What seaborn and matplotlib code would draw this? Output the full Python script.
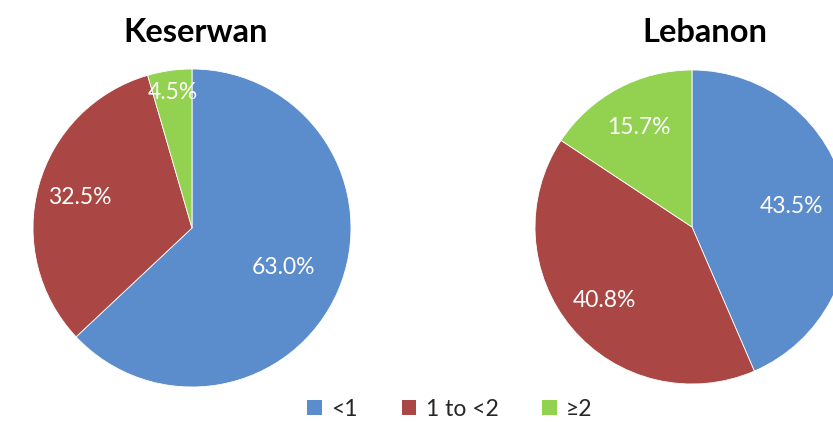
import matplotlib
matplotlib.use("Agg")
import matplotlib.pyplot as plt
from matplotlib.patches import Patch
import numpy as np
import seaborn as sns

# data
categories = ["<1", "1 to <2", "\u22652"]
regions = ["Keserwan", "Lebanon"]
keserwan_pct = [63.0, 32.5, 4.5]
lebanon_pct = [43.5, 40.8, 15.7]

# label radii (fraction of radius) per wedge, as placed in the original
keserwan_label_r = [0.63, 0.73, 0.86]
lebanon_label_r = [0.65, 0.73, 0.72]

sns.set_theme(style="white")
plt.rcParams["font.family"] = ["Lato", "DejaVu Sans"]
colors = sns.color_palette(["#5B8CCB", "#AA4644", "#93D150"])

W, H = 833, 422
fig = plt.figure(figsize=(W / 100, H / 100), dpi=100)


def draw_pie(cx, cy, r, values, label_r, title, title_x):
    ax = fig.add_axes([(cx - r) / W, (H - cy - r) / H, 2 * r / W, 2 * r / H])
    wedges, _ = ax.pie(values, colors=colors, startangle=90, counterclock=False,
                       wedgeprops=dict(edgecolor="white", linewidth=0.6))
    ax.set_xlim(-1, 1)
    ax.set_ylim(-1, 1)
    ax.set_aspect("equal")
    ax.axis("off")
    for w, v, d in zip(wedges, values, label_r):
        ang = np.deg2rad((w.theta1 + w.theta2) / 2)
        ax.text(d * np.cos(ang), d * np.sin(ang), f"{v:.1f}%", color="white",
                ha="center", va="center", fontsize=16.5)
    fig.text(title_x / W, 1 - 33 / H, title, ha="center", va="center",
             fontsize=23.5, fontweight="bold", color="black")


draw_pie(192, 228, 159, keserwan_pct, keserwan_label_r, regions[0], 196)
draw_pie(692, 227, 157, lebanon_pct, lebanon_label_r, regions[1], 705)

handles = [Patch(facecolor=c, edgecolor="none") for c in colors]
fig.legend(handles, categories, loc="center", bbox_to_anchor=(450 / W, 1 - 409 / H),
           ncol=3, frameon=False, fontsize=16.5, handlelength=0.65, handleheight=0.65,
           handletextpad=0.4, columnspacing=1.9)

fig.savefig("out.png", dpi=100)
